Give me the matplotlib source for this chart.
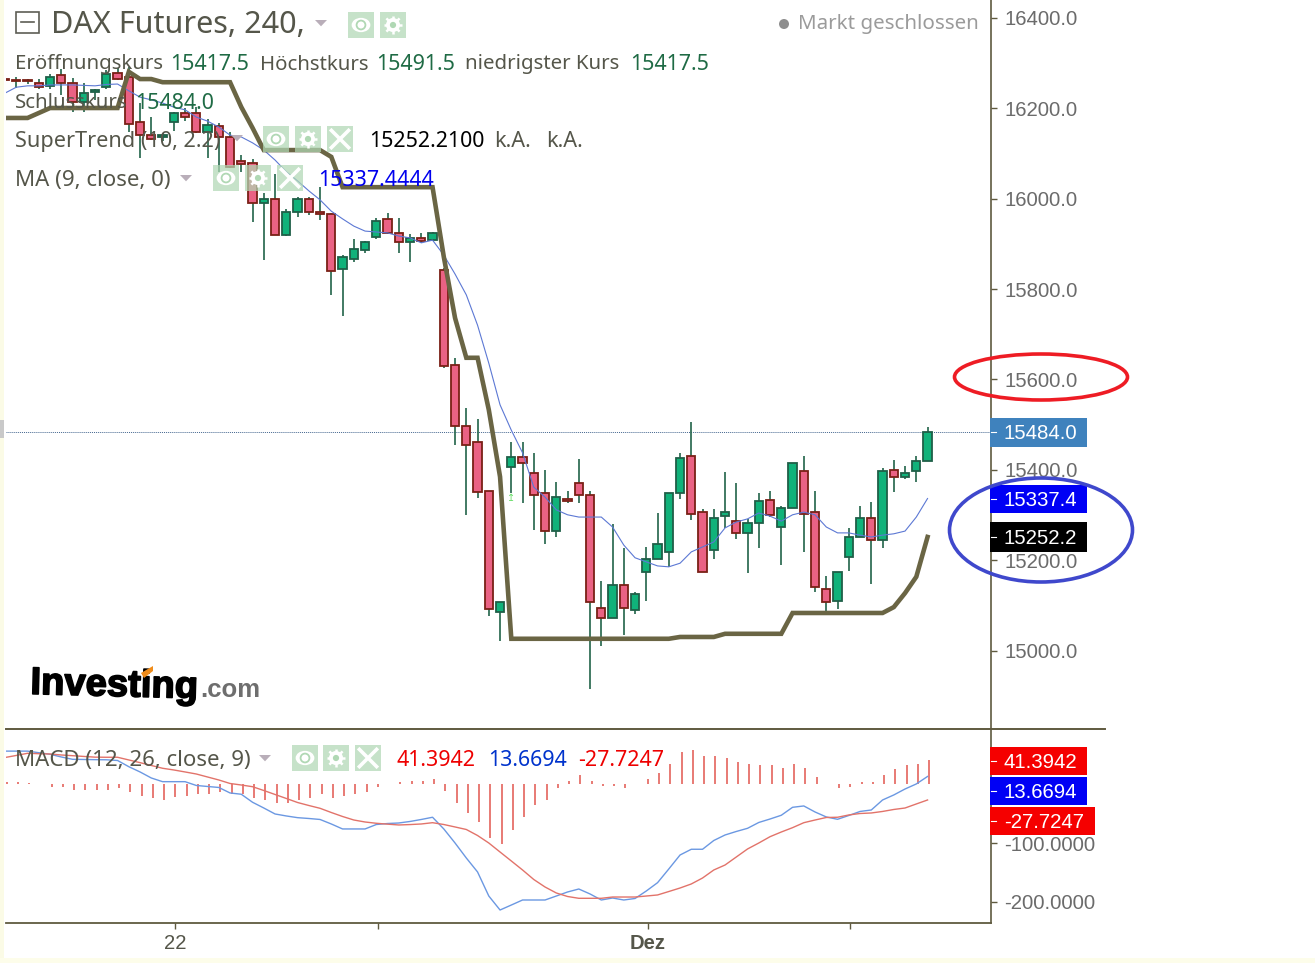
import matplotlib
matplotlib.use("Agg")
import matplotlib.pyplot as plt
import matplotlib.patheffects as pe
import numpy as np
from matplotlib.patches import Rectangle, Ellipse, Circle, Polygon

W, H = 1315, 963

# candle data, oldest first
opens = [16264, 16262, 16262, 16256, 16249, 16272, 16256, 16214, 16235, 16247, 16277, 16268, 16169, 16140, 16136,
         16168, 16190, 16190, 16147, 16160, 16135, 16082, 16078, 15989, 16000, 15919, 15970, 16000, 15971, 15966,
         15845, 15866, 15886, 15914, 15954, 15924, 15904, 15913, 15908, 15842, 15631, 15497, 15461, 15354, 15087,
         15406, 15428, 15394, 15349, 15265, 15337, 15371, 15345, 15096, 15074, 15146, 15091, 15174, 15203, 15219,
         15349, 15431, 15308, 15223, 15298, 15287, 15261, 15282, 15333, 15274, 15315, 15398, 15307, 15138, 15111,
         15207, 15253, 15295, 15245, 15399, 15385, 15398, 15419]
highs = [16266, 16268, 16264, 16264, 16275, 16286, 16266, 16255, 16242, 16284, 16288, 16291, 16211, 16180, 16145,
         16192, 16200, 16203, 16176, 16167, 16148, 16096, 16087, 16013, 16054, 15976, 16004, 16004, 16025, 15968,
         15875, 15910, 15905, 15956, 15967, 15958, 15922, 15924, 15925, 15846, 15648, 15536, 15512, 15354, 15109,
         15461, 15461, 15437, 15400, 15374, 15354, 15425, 15354, 15155, 15280, 15227, 15130, 15229, 15304, 15349,
         15437, 15507, 15313, 15313, 15395, 15371, 15291, 15350, 15354, 15320, 15415, 15432, 15354, 15166, 15175,
         15271, 15321, 15329, 15404, 15421, 15409, 15432, 15494]
lows = [16257, 16244, 16253, 16242, 16242, 16229, 16191, 16191, 16218, 16242, 16262, 16147, 16090, 16129, 16127,
        16150, 16171, 16145, 16090, 16059, 16068, 16059, 15947, 15864, 15919, 15918, 15960, 15964, 15953, 15787,
        15740, 15860, 15880, 15910, 15921, 15880, 15860, 15901, 15905, 15625, 15455, 15301, 15339, 15077, 15023,
        15350, 15326, 15267, 15236, 15251, 15326, 15326, 14915, 15011, 15074, 15035, 15082, 15110, 15203, 15186,
        15335, 15290, 15174, 15203, 15271, 15247, 15173, 15227, 15297, 15190, 15315, 15218, 15131, 15086, 15093,
        15177, 15253, 15148, 15227, 15351, 15380, 15373, 15419]
closes = [16262, 16259, 16259, 16247, 16268, 16256, 16214, 16234, 16240, 16275, 16264, 16165, 16140, 16132, 16140,
          16190, 16181, 16148, 16162, 16135, 16070, 16077, 15991, 16000, 15919, 15970, 16000, 15970, 15965, 15840,
          15870, 15888, 15904, 15950, 15923, 15904, 15913, 15907, 15924, 15630, 15497, 15455, 15352, 15092, 15109,
          15428, 15415, 15344, 15265, 15341, 15332, 15344, 15108, 15074, 15146, 15094, 15126, 15204, 15237, 15349,
          15427, 15302, 15174, 15295, 15308, 15261, 15282, 15332, 15301, 15315, 15415, 15303, 15141, 15108, 15175,
          15253, 15295, 15245, 15398, 15385, 15394, 15419, 15485]

ma_line = [16233, 16246, 16249, 16249, 16251, 16251, 16251, 16250, 16249, 16252, 16253, 16238, 16224, 16218, 16211,
           16202, 16196, 16180, 16171, 16158, 16140, 16136, 16123, 16107, 16085, 16059, 16039, 16017, 15997, 15972,
           15955, 15939, 15928, 15926, 15924, 15917, 15913, 15902, 15908, 15875, 15833, 15787, 15720, 15636, 15544,
           15488, 15438, 15362, 15340, 15312, 15301, 15296, 15296, 15296, 15274, 15234, 15206, 15197, 15188, 15186,
           15194, 15219, 15230, 15241, 15272, 15285, 15292, 15305, 15298, 15287, 15301, 15307, 15301, 15274, 15261,
           15261, 15256, 15252, 15256, 15259, 15265, 15296, 15337]

supertrend = [16178, 16178, 16178, 16189, 16200, 16200, 16200, 16200, 16200, 16200, 16200, 16280, 16264, 16264, 16257,
              16257, 16257, 16257, 16257, 16257, 16257, 16202, 16156, 16107, 16107, 16107, 16107, 16107, 16107, 16092,
              16025, 16025, 16025, 16025, 16025, 16025, 16025, 16025, 16025, 15871, 15736, 15648, 15648, 15533, 15385,
              15027, 15027, 15027, 15027, 15027, 15027, 15027, 15027, 15027, 15027, 15027, 15027, 15027, 15027, 15027,
              15031, 15031, 15031, 15031, 15038, 15038, 15038, 15038, 15038, 15038, 15084, 15084, 15084, 15084, 15084,
              15084, 15084, 15084, 15084, 15097, 15128, 15164, 15252]

macd_line = [57, 57, 57, 54.3, 51.6, 47, 43, 42.7, 42.4, 42.2, 41, 30.4, 21.4, 11.1, 4.8,
             4.8, 4.8, -1.7, -3.4, -5.1, -14.5, -16.7, -30.4, -40.2, -50.4, -53.8, -56.7, -58.1, -59.8, -67.5,
             -76, -76, -76, -68.4, -66.7, -65.8, -63.2, -59.8, -56, -76, -100, -125.6, -149.5, -190.6, -214.5,
             -206, -197.4, -197.4, -197.4, -190.6, -183.7, -178.6, -187.1, -197.4, -194, -197.4, -194.8, -182, -167.8, -144.4,
             -120.5, -110.7, -110.7, -95.7, -86.3, -80.3, -74.9, -64.9, -59, -52.6, -39, -36.7, -47, -55.5, -59.5,
             -53, -46.1, -43.6, -26.5, -17.9, -7.7, 0.9, 13.7]

signal_line = [46.1, 49.6, 53.3, 52.6, 52.1, 50.4, 49.2, 47.9, 46.7, 46.5, 46.5, 41.9, 37.3, 32.5, 27.7,
               24.8, 21.4, 17.9, 12.8, 7.7, 1.7, -0.9, -3.8, -10.3, -17.1, -23.9, -30.8, -35.9, -40.7, -47.9,
               -54.7, -60.7, -64.1, -66.3, -67.8, -69.2, -68.5, -67.5, -65.3, -68.4, -72.6, -76.9, -87.2, -100, -115.4,
               -130.7, -146.1, -162.4, -175.2, -185.4, -191.4, -194.5, -194.5, -194.5, -192.3, -192.3, -192.3, -190.6, -188.8, -182.9,
               -176.9, -170, -159.8, -146.1, -137.6, -123.9, -110.2, -100, -89.2, -81.2, -73.8, -65.3, -60.7, -56.4, -56,
               -52.1, -49.6, -48.7, -46.1, -42.7, -40.2, -33.3, -26.5]

hist = [4.6, 4.6, 2.9, 0.5, -4, -4, -9.7, -9.7, -9.7, -9.7, -6.8, -13.7, -19.4, -22.8, -26.2,
        -22.2, -19.4, -16.5, -16.5, -13.7, -16.5, -16.5, -22.8, -26.2, -32.5, -32.5, -26.2, -22.8, -16.5, -22.8,
        -19.4, -16.5, -13.7, -4, 0.5, 3.4, 5.7, 5.7, 9.1, -10.3, -32.5, -48.5, -63.8, -91.2, -100.9,
        -78.1, -55.3, -35.3, -25.7, -6.8, 5.7, 16, 5.7, -2.3, -2.3, -6.8, 0.5, 9.1, 20, 34.8,
        54.7, 58.7, 49, 49, 44.5, 38.8, 34.8, 33, 33, 29, 34.8, 29, 13.1, 0.5, -5.7,
        -4, 3.4, 3.4, 16, 26.2, 33, 34.8, 41.6]

price_ticks = [15000, 15200, 15400, 15600, 15800, 16000, 16200, 16400]
macd_ticks = [-100, -200]
date_ticks = [15, 33, 57, 75]
date_labels = ["22", "", "Dez", ""]
last_price = 15484.0
ma_last = 15337.4
st_last = 15252.2

OLIVE = "#5f5a3f"
TXT = "#55564a"
GREEN_VAL = "#1f6b45"
LEG_FONT = "Noto Sans"
AX_FONT = "Liberation Sans"


def frac_axes(fig, x0, y0, x1, y1):
    return fig.add_axes([x0 / W, 1 - y1 / H, (x1 - x0) / W, (y1 - y0) / H])


def style_axis(ax):
    for s in ["left", "top", "bottom", "right"]:
        ax.spines[s].set_visible(False)
    ax.spines["right"].set_visible(True)
    ax.spines["right"].set_color(OLIVE)
    ax.spines["right"].set_linewidth(1.2)
    ax.yaxis.tick_right()
    ax.tick_params(axis="y", length=4.5, width=1, color=OLIVE, labelcolor="#6b6b6b", pad=5, labelsize=14.7)
    for lab in ax.get_yticklabels():
        lab.set_fontfamily(AX_FONT)


fig = plt.figure(figsize=(W / 100, H / 100), dpi=100, facecolor="white")

# price panel
ax = frac_axes(fig, 6, 0, 991, 729)
ax.set_xlim(0.084, 87.64)
ax.set_ylim(14827.6, 16438.7)
idx = np.arange(len(opens))
o = np.array(opens, float)
c = np.array(closes, float)
up = c >= o
ax.vlines(idx, lows, highs, color="#2a6a50", lw=1.25, zorder=2)
ax.bar(idx[up], (c - o)[up], bottom=o[up], width=0.74, color="#10b27a", edgecolor="#1f5f48", linewidth=1.3, zorder=3)
ax.bar(idx[~up], (c - o)[~up], bottom=o[~up], width=0.74, color="#ea6284", edgecolor="#7a2016", linewidth=1.3, zorder=3)
ax.plot(idx, ma_line, color="#5c78d4", lw=0.8, zorder=4)
ax.plot(idx, supertrend, color="#6a6544", lw=3.3, solid_joinstyle="miter", zorder=5)
ax.axhline(last_price, color="#44668f", lw=0.7, ls=(0, (1, 1)), zorder=1)
ax.text(45, 15339, "\u21a5", color="#66dd66", fontsize=7, ha="center", va="center", family="DejaVu Sans", zorder=6)
ax.set_xticks([])
ax.set_yticks(price_ticks)
ax.set_yticklabels(["%.1f" % p for p in price_ticks])
style_axis(ax)

# macd panel
ax2 = frac_axes(fig, 6, 729, 991, 923)
ax2.set_xlim(0.084, 87.64)
ax2.set_ylim(-236.7, 94.8)
ax2.vlines(idx + 0.15, 0, hist, color="#e2564e", lw=1.1, zorder=2)
ax2.plot(idx, macd_line, color="#6b98e2", lw=1.0, zorder=3)
ax2.plot(idx, signal_line, color="#e2736a", lw=1.0, zorder=4)
ax2.set_yticks(macd_ticks)
ax2.set_yticklabels(["%.4f" % p for p in macd_ticks])
style_axis(ax2)
ax2.spines["bottom"].set_visible(True)
ax2.spines["bottom"].set_color(OLIVE)
ax2.spines["bottom"].set_linewidth(1.3)
ax2.set_xticks(np.array(date_ticks) + 0.15)
ax2.set_xticklabels(date_labels, fontfamily=AX_FONT, fontsize=14.6, color=TXT)
ax2.tick_params(axis="x", length=4, width=1, color=OLIVE, pad=4)
ax2.get_xticklabels()[2].set_fontweight("bold")

# overlay in pixel coordinates for the legend text and badges
px = fig.add_axes([0, 0, 1, 1], zorder=10)
px.set_xlim(0, W)
px.set_ylim(H, 0)
px.axis("off")
px.patch.set_alpha(0)


def put(x, y, s, color=TXT, size=15.6, family=LEG_FONT, **kw):
    if family == LEG_FONT:
        y = y + 1.5
    return px.text(x, y, s, color=color, fontsize=size, family=family, va="center", ha=kw.pop("ha", "left"), **kw)


def tri(x, y, size=6):
    px.add_patch(Polygon([(x - size, y - size * 0.5), (x + size, y - size * 0.5), (x, y + size * 0.55)],
                         closed=True, color="#b9aeb9", lw=0))


def icon(x, y, kind, s=26):
    px.add_patch(Rectangle((x, y), s, s, color="#b0d8b4", alpha=0.72, lw=0))
    cx, cy = x + s / 2, y + s / 2
    if kind == "eye":
        px.add_patch(Ellipse((cx, cy), s * 0.72, s * 0.55, color="white", lw=0))
        px.add_patch(Circle((cx, cy), s * 0.17, facecolor="white", edgecolor="#b0d8b4", lw=1.3))
    elif kind == "gear":
        px.add_patch(Circle((cx, cy), s * 0.27, color="white", lw=0, zorder=3))
        for a in np.arange(0, 360, 45):
            dx, dy = np.cos(np.radians(a)) * s * 0.36, np.sin(np.radians(a)) * s * 0.36
            px.plot([cx, cx + dx], [cy, cy + dy], color="white", lw=1.8, solid_capstyle="butt", zorder=3)
        px.add_patch(Circle((cx, cy), s * 0.12, color="#b0d8b4", lw=0, zorder=4))
    else:
        d = s * 0.33
        px.plot([cx - d, cx + d], [cy - d, cy + d], color="white", lw=2.6)
        px.plot([cx - d, cx + d], [cy + d, cy - d], color="white", lw=2.6)


def badge(y0, y1, s, color, right=1087):
    px.add_patch(Rectangle((990, y0), right - 990, y1 - y0, color=color, lw=0))
    px.plot([991, 996], [(y0 + y1) / 2] * 2, color="white", lw=0.8)
    put(1004, (y0 + y1) / 2 + 1, s, color="white", size=14.7, family=AX_FONT)


# header
px.add_patch(Rectangle((16, 12), 23, 21, facecolor="white", edgecolor="#5d5d55", lw=1.2))
px.plot([21, 34], [22.5, 22.5], color="#5d5d55", lw=1.2)
put(51, 23.5, "DAX Futures, 240,", size=22)
tri(321, 23)
icon(348, 12, "eye")
icon(380, 12, "gear")
px.add_patch(Circle((784, 24), 5, color="#8e8e8e", lw=0))
put(798, 23, "Markt geschlossen", color="#9b9b9b", size=14.8)

put(15, 63, "Eröffnungskurs", size=14.7)
put(170, 63, "15417.5", color=GREEN_VAL, size=15.4)
put(260, 63, "Höchstkurs", size=14.7)
put(376, 63, "15491.5", color=GREEN_VAL, size=15.4)
put(465, 63, "niedrigster Kurs", size=14.7)
put(630, 63, "15417.5", color=GREEN_VAL, size=15.4)
put(15, 102, "Schlusskurs", size=14.7)
put(135, 102, "15484.0", color=GREEN_VAL, size=15.4)

put(15, 140, "SuperTrend (10, 2.2)")
tri(237, 138)
icon(263, 126, "eye")
icon(295, 126, "gear")
icon(327, 126, "x")
put(369, 140, "15252.2100", color="black", size=15.4)
put(494, 140, "k.A.")
put(546, 140, "k.A.")

put(15, 179, "MA (9, close, 0)", size=16)
tri(186, 178)
icon(213, 165, "eye")
icon(245, 165, "gear")
icon(277, 165, "x")
put(318, 179, "15337.4444", color="#0000ee", size=15.4)

# logo
t = put(30, 686, "Investing", color="black", size=27.5, family="Liberation Sans", weight="bold", rotation=-1.5)
t.set_path_effects([pe.withStroke(linewidth=1.2, foreground="black")])
put(200, 690, ".com", color="#6e6e6e", size=18.5, family="Liberation Sans", weight="bold")
px.add_patch(Polygon([(141, 673), (153, 666), (153, 671), (144, 678)], closed=True, color="#f08c1a", lw=0, zorder=5))

# macd legend
put(15, 759, "MACD (12, 26, close, 9)", size=16)
tri(265, 758)
icon(292, 745, "eye")
icon(323, 745, "gear")
icon(355, 745, "x")
put(397, 759, "41.3942", color="#ee0000", size=15.4)
put(488, 759, "13.6694", color="#0033cc", size=15.4)
put(578, 759, "-27.7247", color="#ee0000", size=15.4)

# separator and value badges
px.plot([6, 1105], [729, 729], color=OLIVE, lw=1.4)
badge(418, 447, "%.1f" % last_price, "#3f82bd")
badge(485, 513, "%.1f" % ma_last, "#0000f5")
badge(522, 552, "%.1f" % st_last, "black")
badge(747, 775, "41.3942", "#f50000")
badge(777, 805, "13.6694", "#0000f5")
badge(807, 835, "-27.7247", "#f50000", right=1095)

# hand drawn circles
px.add_patch(Ellipse((1041, 377), 173, 46, fill=False, edgecolor="#ee1c24", lw=2.6))
px.add_patch(Ellipse((1041, 530), 183, 104, fill=False, edgecolor="#3f48cc", lw=2.6))

# pale strips at the left and bottom edge
px.add_patch(Rectangle((0, 0), 4, H, color="#fbfbe6", lw=0))
px.add_patch(Rectangle((0, 958), W, 5, color="#fdfdea", lw=0))
px.add_patch(Rectangle((0, 420), 4, 18, color="#c9c9c9", lw=0))

fig.savefig("out.png", dpi=100)
